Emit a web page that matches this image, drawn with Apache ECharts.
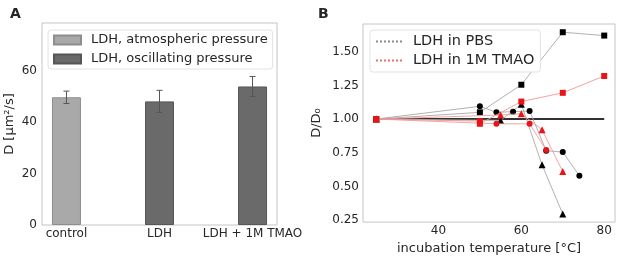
<!DOCTYPE html>
<html>
<head>
<meta charset="utf-8">
<script src="https://cdn.jsdelivr.net/npm/echarts@6.0.0/dist/echarts.min.js"></script>
<style>
  html, body { margin: 0; padding: 0; background: #fff; }
  #chart { width: 617px; height: 260px; }
</style>
</head>
<body>
<div id="chart"></div>
<script>
// panel A: diffusion coefficient bars
const barCategories = ["control", "LDH", "LDH + 1M TMAO"];
const barValues = [49.7, 48.1, 53.9];
const barErrors = [2.4, 4.3, 3.9];
const barLegend = ["LDH, atmospheric pressure", "LDH, oscillating pressure"];
const barGroup = [0, 1, 1];
const aTicks = [0, 20, 40, 60];

// panel B: D/D0 vs incubation temperature [°C, D/D0]
const pbsSquare = [[25, 1.00], [50, 1.05], [60, 1.255], [70, 1.645], [80, 1.62]];
const pbsCircle = [[25, 1.00], [50, 1.095], [54, 1.05], [58, 1.055], [62, 1.06], [66, 0.765], [70, 0.755], [74, 0.58]];
const pbsTriangle = [[25, 1.00], [55, 0.99], [60, 1.11], [65, 0.66], [70, 0.295]];
const tmaoSquare = [[25, 1.00], [50, 0.985], [50, 0.965], [60, 1.13], [70, 1.195], [80, 1.32]];
const tmaoCircle = [[25, 1.00], [54, 0.965], [62, 0.965], [66, 0.77]];
const tmaoTriangle = [[25, 1.00], [55, 1.03], [60, 1.04], [65, 0.92], [70, 0.61]];
const refLine = [[25, 1.0], [80, 1.0]];
const lineLegend = ["LDH in PBS", "LDH in 1M TMAO"];
const bXTicks = [40, 60, 80];
const bYTicks = [0.25, 0.5, 0.75, 1.0, 1.25, 1.5];

const FONT = "DejaVu Sans";
const TXT = "#262626";
const barColors = ["#a9a9a9", "#6a6a6a"];
const barEdges = ["#8e8e8e", "#555555"];
const pbsLine = "#a8a8a8";
const tmaoLine = "#f29a9a";
const red = "#e8141a";

const chart = echarts.init(document.getElementById("chart"), null, { renderer: "canvas" });

function barSeries(g) {
  return {
    name: barLegend[g],
    type: "bar",
    xAxisIndex: 0,
    yAxisIndex: 0,
    barWidth: 29,
    barGap: "-100%",
    itemStyle: { color: barColors[g], borderColor: barEdges[g], borderWidth: 1 },
    data: barValues.map((v, i) => (barGroup[i] === g ? [i, v] : [i, "-"])),
    z: 2,
  };
}

function pointSeries(name, data, symbol, isRed) {
  return {
    name: name,
    type: "line",
    xAxisIndex: 1,
    yAxisIndex: 1,
    data: data,
    symbol: symbol,
    symbolSize: symbol === "triangle" ? 7 : 6,
    showSymbol: true,
    lineStyle: { color: isRed ? tmaoLine : pbsLine, width: 0.9 },
    itemStyle: { color: isRed ? red : "#000" },
    emphasis: { disabled: true },
    z: isRed ? 4 : 3,
  };
}

const option = {
  animation: false,
  textStyle: { fontFamily: FONT, color: TXT },
  title: [
    { text: "A", left: 5, top: 2, textStyle: { fontFamily: FONT, fontSize: 14, fontWeight: "bold", color: TXT } },
    { text: "B", left: 313, top: 2, textStyle: { fontFamily: FONT, fontSize: 14, fontWeight: "bold", color: TXT } },
  ],
  grid: [
    { left: 42, right: 340, top: 23, bottom: 35, show: true, borderColor: "#c4c4c4", borderWidth: 1, backgroundColor: "#fff" },
    { left: 363, right: 2, top: 24, bottom: 36, show: true, borderColor: "#c4c4c4", borderWidth: 1, backgroundColor: "#fff" },
  ],
  legend: [
    {
      data: barLegend.map((n) => ({ name: n, icon: "rect" })),
      orient: "vertical",
      left: 48,
      top: 30,
      itemWidth: 27,
      itemHeight: 9,
      itemGap: 5,
      padding: [3, 5, 3, 5],
      backgroundColor: "#fff",
      borderColor: "#e2e2e2",
      borderWidth: 1,
      borderRadius: 3,
      selectedMode: false,
      textStyle: { fontFamily: FONT, fontSize: 13, color: TXT, lineHeight: 14, padding: [0, 0, 0, 5] },
    },
    {
      data: lineLegend,
      orient: "vertical",
      left: 370,
      top: 30,
      itemWidth: 27,
      itemHeight: 9,
      itemGap: 4,
      padding: [4, 6, 4, 5],
      backgroundColor: "#fff",
      borderColor: "#e2e2e2",
      borderWidth: 1,
      borderRadius: 3,
      selectedMode: false,
      itemStyle: { opacity: 0 },
      textStyle: { fontFamily: FONT, fontSize: 14.5, color: TXT, lineHeight: 15, padding: [0, 0, 0, 5] },
    },
  ],
  xAxis: [
    {
      type: "value",
      gridIndex: 0,
      min: -0.263,
      max: 2.263,
      axisLine: { show: false },
      axisTick: { show: false },
      splitLine: { show: false },
      axisLabel: {
        customValues: [0, 1, 2],
        formatter: (v) => barCategories[Math.round(v)],
        fontFamily: FONT,
        fontSize: 12,
        color: TXT,
        margin: 3,
      },
    },
    {
      type: "value",
      gridIndex: 1,
      min: 21.8,
      max: 82.6,
      name: "incubation temperature [°C]",
      nameLocation: "middle",
      nameGap: 16,
      nameTextStyle: { fontFamily: FONT, fontSize: 13, color: TXT },
      axisLine: { show: false },
      axisTick: { show: false },
      splitLine: { show: false },
      axisLabel: { customValues: bXTicks, fontFamily: FONT, fontSize: 12, color: TXT, margin: 3 },
    },
  ],
  yAxis: [
    {
      type: "value",
      gridIndex: 0,
      min: 0,
      max: 78.6,
      name: "D [μm²/s]",
      nameLocation: "middle",
      nameGap: 26,
      nameTextStyle: { fontFamily: FONT, fontSize: 13, color: TXT },
      axisLine: { show: false },
      axisTick: { show: false },
      splitLine: { show: false },
      axisLabel: { customValues: aTicks, fontFamily: FONT, fontSize: 12, color: TXT, margin: 5 },
    },
    {
      type: "value",
      gridIndex: 1,
      min: 0.235,
      max: 1.706,
      name: "D/D₀",
      nameLocation: "middle",
      nameGap: 40,
      nameTextStyle: { fontFamily: FONT, fontSize: 13, color: TXT },
      axisLine: { show: false },
      axisTick: { show: false },
      splitLine: { show: false },
      axisLabel: {
        customValues: bYTicks,
        formatter: (v) => v.toFixed(2),
        fontFamily: FONT,
        fontSize: 12,
        color: TXT,
        margin: 4,
      },
    },
  ],
  series: [
    barSeries(0),
    barSeries(1),
    {
      name: "errors",
      type: "custom",
      xAxisIndex: 0,
      yAxisIndex: 0,
      data: barValues.map((v, i) => [i, v - barErrors[i], v + barErrors[i]]),
      encode: { x: 0, y: [1, 2] },
      z: 5,
      renderItem: function (params, api) {
        const x = api.value(0);
        const lo = api.coord([x, api.value(1)]);
        const hi = api.coord([x, api.value(2)]);
        const cap = 3;
        const st = { stroke: "#555", lineWidth: 1 };
        return {
          type: "group",
          children: [
            { type: "line", shape: { x1: lo[0], y1: lo[1], x2: hi[0], y2: hi[1] }, style: st },
            { type: "line", shape: { x1: lo[0] - cap, y1: lo[1], x2: lo[0] + cap, y2: lo[1] }, style: st },
            { type: "line", shape: { x1: hi[0] - cap, y1: hi[1], x2: hi[0] + cap, y2: hi[1] }, style: st },
          ],
        };
      },
    },
    // reference line at D/D0 = 1
    {
      name: "ref",
      type: "line",
      xAxisIndex: 1,
      yAxisIndex: 1,
      data: refLine,
      symbol: "none",
      lineStyle: { color: "#333", width: 2 },
      emphasis: { disabled: true },
      z: 2,
    },
    // legend entries for panel B
    {
      name: lineLegend[0],
      type: "line",
      xAxisIndex: 1,
      yAxisIndex: 1,
      data: [],
      symbol: "none",
      itemStyle: { color: "#8a8a8a" },
      lineStyle: { color: "#8a8a8a", width: 0.9, type: "dotted" },
    },
    {
      name: lineLegend[1],
      type: "line",
      xAxisIndex: 1,
      yAxisIndex: 1,
      data: [],
      symbol: "none",
      itemStyle: { color: "#f07070" },
      lineStyle: { color: "#f07070", width: 0.9, type: "dotted" },
    },
    pointSeries("pbsSquare", pbsSquare, "rect", false),
    pointSeries("pbsCircle", pbsCircle, "circle", false),
    pointSeries("pbsTriangle", pbsTriangle, "triangle", false),
    pointSeries("tmaoSquare", tmaoSquare, "rect", true),
    pointSeries("tmaoCircle", tmaoCircle, "circle", true),
    pointSeries("tmaoTriangle", tmaoTriangle, "triangle", true),
  ],
};

chart.setOption(option);
window.addEventListener("resize", () => chart.resize());
</script>
</body>
</html>
